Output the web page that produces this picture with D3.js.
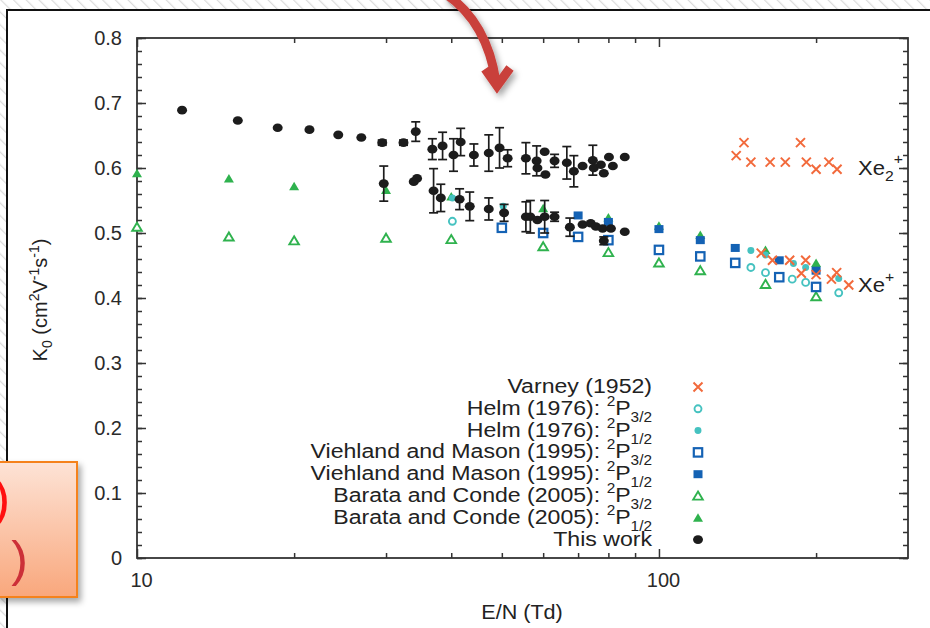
<!DOCTYPE html>
<html>
<head>
<meta charset="utf-8">
<style>
body { margin: 0; background: #fff; }
svg { display: block; font-family: "Liberation Sans", Arial, Helvetica, sans-serif; }
.axis path.domain { display: none; }
.axis line { stroke: #333; stroke-width: 1.5px; }
.axis text { font-size: 20px; fill: #2a2a2a; font-family: "Liberation Sans", Arial, sans-serif; }
</style>
</head>
<body>
<svg width="930" height="628"></svg>
<script src="https://cdn.jsdelivr.net/npm/d3@7"></script>
<script>

// ---- data (E/N in Td, K0 in cm2/Vs) ----
var workEN  = [12.2, 15.6, 18.6, 21.4, 24.3, 26.9, 29.5, 32.4, 34.2, 36.8, 38.5, 40.4, 41.7, 44.2, 47.2, 49.5, 51.3, 55.6, 58.3, 58.5, 60.4, 60.6, 63.1, 66.6, 68.7, 71.4, 74.7, 75.0, 77.4, 78.4, 80.2, 81.6, 86.0,
               29.7, 33.9, 34.4, 37.0, 38.2, 41.5, 43.4, 47.2, 50.5, 55.6, 56.7, 58.5, 60.4, 63.1, 67.5, 71.4, 74.0, 75.7, 78.0, 80.9, 78.4, 86.0];
var workK   = [0.689, 0.673, 0.662, 0.659, 0.651, 0.647, 0.639, 0.639, 0.656, 0.629, 0.634, 0.620, 0.640, 0.620, 0.623, 0.631, 0.615, 0.615, 0.611, 0.600, 0.625, 0.590, 0.611, 0.608, 0.595, 0.603, 0.612, 0.600, 0.605, 0.592, 0.617, 0.603, 0.617,
               0.576, 0.579, 0.584, 0.565, 0.554, 0.552, 0.541, 0.537, 0.531, 0.525, 0.525, 0.520, 0.525, 0.525, 0.509, 0.513, 0.515, 0.510, 0.507, 0.507, 0.488, 0.502];
var workErr = [0, 0, 0, 0, 0, 0, 0.004, 0.004, 0.015, 0.016, 0.021, 0.025, 0.021, 0.017, 0.028, 0.031, 0.013, 0.024, 0.023, 0, 0, 0, 0.010, 0.025, 0.024, 0, 0.023, 0, 0, 0, 0, 0, 0,
               0.027, 0, 0, 0.034, 0.021, 0.016, 0.022, 0.017, 0.013, 0.023, 0.025, 0, 0.025, 0.007, 0.014, 0, 0, 0, 0, 0, 0.006, 0];

var varneyEN = [140.6, 145.5, 150, 163.3, 174.6, 186.7, 191.6, 200, 211.6, 219.4, 157, 165, 178, 191, 187.4, 200, 214, 219, 231];
var varneyK  = [0.619, 0.639, 0.609, 0.609, 0.609, 0.639, 0.609, 0.598, 0.609, 0.598, 0.469, 0.458, 0.458, 0.458, 0.438, 0.436, 0.429, 0.439, 0.420];

var helm32EN = [40.2, 150, 160, 180, 191, 221];
var helm32K  = [0.518, 0.447, 0.439, 0.429, 0.424, 0.408];
var helm12EN = [40.2, 50.3, 150, 160, 181, 191, 221];
var helm12K  = [0.554, 0.541, 0.473, 0.466, 0.453, 0.447, 0.430];

var vm32EN = [50, 60, 70, 80, 100, 120, 140, 170, 200];
var vm32K  = [0.508, 0.500, 0.494, 0.489, 0.474, 0.464, 0.454, 0.432, 0.417];
var vm12EN = [70, 80, 100, 120, 140, 170, 200];
var vm12K  = [0.527, 0.517, 0.506, 0.489, 0.477, 0.458, 0.442];

var bc32EN = [10, 15, 20, 30, 40, 60, 80, 100, 120, 160, 200];
var bc32K  = [0.509, 0.494, 0.488, 0.492, 0.490, 0.479, 0.470, 0.454, 0.442, 0.421, 0.402];
var bc12EN = [10, 15, 20, 30, 40, 60, 80, 100, 120, 160, 200];
var bc12K  = [0.592, 0.584, 0.572, 0.566, 0.556, 0.538, 0.524, 0.511, 0.497, 0.474, 0.454];

var yMajor = [0, 0.1, 0.2, 0.3, 0.4, 0.5, 0.6, 0.7, 0.8];
var yMinor = d3.range(0, 0.801, 0.02);
var xMajor = [10, 100];
var xMinor = [20, 30, 40, 50, 60, 70, 80, 90, 200];

// legend: [name, superscript before P, subscript]
var legendNames = ["Varney (1952)", "Helm (1976): ", "Helm (1976): ", "Viehland and Mason (1995): ",
                   "Viehland and Mason (1995): ", "Barata and Conde (2005): ", "Barata and Conde (2005): ", "This work"];
var legendSubs  = [null, "3/2", "1/2", "3/2", "1/2", "3/2", "1/2", null];
var legendKeys  = ["varney", "helm32", "helm12", "vm32", "vm12", "bc32", "bc12", "work"];

var colors = {varney: "#f26a3c", helm: "#45c2c0", vm: "#1462b4", bc: "#2fb24e", work: "#1c1c1c"};

// ---- page decoration ----
var svg = d3.select("svg");
var defs = svg.append("defs");

var hatch = defs.append("pattern").attr("id", "hatch")
    .attr("patternUnits", "userSpaceOnUse").attr("width", 9).attr("height", 9)
    .attr("patternTransform", "rotate(-45)");
hatch.append("rect").attr("width", 9).attr("height", 9).attr("fill", "#fff");
hatch.append("line").attr("x1", 0).attr("y1", 0).attr("x2", 0).attr("y2", 9)
    .attr("stroke", "#dcdcdc").attr("stroke-width", 2.5);

var shadow = defs.append("filter").attr("id", "shadow")
    .attr("x", "-30%").attr("y", "-30%").attr("width", "160%").attr("height", "160%");
shadow.append("feDropShadow").attr("dx", 3).attr("dy", 4).attr("stdDeviation", 3)
    .attr("flood-color", "#000").attr("flood-opacity", 0.35);

var grad = defs.append("linearGradient").attr("id", "boxgrad")
    .attr("x1", 0).attr("y1", 0).attr("x2", 0).attr("y2", 1);
grad.append("stop").attr("offset", "0%").attr("stop-color", "#fde3d6");
grad.append("stop").attr("offset", "100%").attr("stop-color", "#f9a77c");

svg.append("rect").attr("width", 930).attr("height", 628).attr("fill", "url(#hatch)");
svg.append("rect").attr("x", 7).attr("y", 10).attr("width", 940).attr("height", 640)
    .attr("fill", "#fff").attr("stroke", "#111").attr("stroke-width", 2);

// ---- scales ----
var x = d3.scaleLog().domain([10, 300]).range([137, 908]);
var y = d3.scaleLinear().domain([0, 0.8]).range([558, 38]);

// axes (ticks point inward)
svg.append("g").attr("class", "axis").attr("transform", "translate(137,0)")
    .call(d3.axisLeft(y).tickValues(yMajor).tickSizeInner(-9).tickSizeOuter(0).tickPadding(15)
      .tickFormat(function(d) { return d === 0 ? "0" : d3.format(".1f")(d); }));
svg.append("g").attr("class", "axis").attr("transform", "translate(137,0)")
    .call(d3.axisLeft(y).tickValues(yMinor).tickSizeInner(-5).tickSizeOuter(0).tickFormat(""));
svg.append("g").attr("class", "axis").attr("transform", "translate(908,0)")
    .call(d3.axisRight(y).tickValues(yMajor).tickSizeInner(-9).tickSizeOuter(0).tickFormat(""));
svg.append("g").attr("class", "axis").attr("transform", "translate(908,0)")
    .call(d3.axisRight(y).tickValues(yMinor).tickSizeInner(-5).tickSizeOuter(0).tickFormat(""));

svg.append("g").attr("class", "axis").attr("transform", "translate(0,558)")
    .call(d3.axisBottom(x).tickValues(xMajor).tickSizeInner(-9).tickSizeOuter(0).tickPadding(15)
      .tickFormat(d3.format("d")))
  .selectAll("text").attr("dx", "0.2em");
svg.append("g").attr("class", "axis").attr("transform", "translate(0,558)")
    .call(d3.axisBottom(x).tickValues(xMinor).tickSizeInner(-5).tickSizeOuter(0).tickFormat(""));
svg.append("g").attr("class", "axis").attr("transform", "translate(0,38)")
    .call(d3.axisTop(x).tickValues(xMajor).tickSizeInner(-9).tickSizeOuter(0).tickFormat(""));
svg.append("g").attr("class", "axis").attr("transform", "translate(0,38)")
    .call(d3.axisTop(x).tickValues(xMinor).tickSizeInner(-5).tickSizeOuter(0).tickFormat(""));

svg.append("rect").attr("x", 137).attr("y", 38).attr("width", 771).attr("height", 520)
    .attr("fill", "none").attr("stroke", "#333").attr("stroke-width", 1.8);

// ---- symbols ----
function drawSymbol(g, key) {
  if (key === "varney") {
    g.append("path").attr("d", "M-4.5,-4.5L4.5,4.5M-4.5,4.5L4.5,-4.5")
      .attr("stroke", colors.varney).attr("stroke-width", 2).attr("fill", "none");
  } else if (key === "helm32") {
    g.append("path").attr("d", d3.symbol().type(d3.symbolCircle).size(38)())
      .attr("fill", "#fff").attr("stroke", colors.helm).attr("stroke-width", 1.9);
  } else if (key === "helm12") {
    g.append("path").attr("d", d3.symbol().type(d3.symbolCircle).size(38)())
      .attr("fill", colors.helm);
  } else if (key === "vm32") {
    g.append("rect").attr("x", -4.2).attr("y", -4.2).attr("width", 8.4).attr("height", 8.4)
      .attr("fill", "#fff").attr("stroke", colors.vm).attr("stroke-width", 2.2);
  } else if (key === "vm12") {
    g.append("rect").attr("x", -4.5).attr("y", -4).attr("width", 9).attr("height", 8)
      .attr("fill", colors.vm);
  } else if (key === "bc32") {
    g.append("path").attr("d", "M0,-4.5L4.8,3.6L-4.8,3.6Z")
      .attr("fill", "#fff").attr("stroke", colors.bc).attr("stroke-width", 1.9);
  } else if (key === "bc12") {
    g.append("path").attr("d", "M0,-4.5L5,4L-5,4Z").attr("fill", colors.bc);
  } else if (key === "work") {
    g.append("ellipse").attr("rx", 5).attr("ry", 4.3).attr("fill", colors.work);
  }
}

function plotSeries(key, en, k) {
  svg.append("g").selectAll("g").data(d3.zip(en, k)).enter().append("g")
      .attr("transform", function(d) { return "translate(" + x(d[0]) + "," + y(d[1]) + ")"; })
      .each(function() { drawSymbol(d3.select(this), key); });
}

plotSeries("bc32", bc32EN, bc32K);
plotSeries("bc12", bc12EN, bc12K);
plotSeries("helm32", helm32EN, helm32K);
plotSeries("helm12", helm12EN, helm12K);
plotSeries("vm32", vm32EN, vm32K);
plotSeries("vm12", vm12EN, vm12K);
plotSeries("varney", varneyEN, varneyK);

// this work, with error bars
var work = d3.zip(workEN, workK, workErr);
var bars = svg.append("g").attr("stroke", colors.work).attr("stroke-width", 1.7)
  .selectAll("g").data(work.filter(function(d) { return d[2] > 0; })).enter().append("g");
bars.append("line")
    .attr("x1", function(d) { return x(d[0]); }).attr("x2", function(d) { return x(d[0]); })
    .attr("y1", function(d) { return y(d[1] - d[2]); }).attr("y2", function(d) { return y(d[1] + d[2]); });
bars.append("line")
    .attr("x1", function(d) { return x(d[0]) - 4.5; }).attr("x2", function(d) { return x(d[0]) + 4.5; })
    .attr("y1", function(d) { return y(d[1] - d[2]); }).attr("y2", function(d) { return y(d[1] - d[2]); });
bars.append("line")
    .attr("x1", function(d) { return x(d[0]) - 4.5; }).attr("x2", function(d) { return x(d[0]) + 4.5; })
    .attr("y1", function(d) { return y(d[1] + d[2]); }).attr("y2", function(d) { return y(d[1] + d[2]); });
plotSeries("work", workEN, workK);

// ---- legend ----
legendNames.forEach(function(name, i) {
  var ty = 393 + i * 21.8;
  var t = svg.append("text").attr("transform", "translate(652," + ty + ") scale(1.1,1)")
      .attr("text-anchor", "end").attr("font-size", 21).attr("fill", "#222");
  t.append("tspan").text(name);
  if (legendSubs[i]) {
    t.append("tspan").attr("font-size", 14).attr("dy", -9).text("2");
    t.append("tspan").attr("font-size", 21).attr("dy", 9).text("P");
    t.append("tspan").attr("font-size", 14).attr("dy", 7).text(legendSubs[i]);
  }
  var g = svg.append("g").attr("transform", "translate(698," + (ty - 6) + ")");
  drawSymbol(g, legendKeys[i]);
});

// ---- axis titles and ion labels ----
var yl = svg.append("text").attr("transform", "translate(47,300) rotate(-90)")
    .attr("text-anchor", "middle").attr("font-size", 20).attr("fill", "#222");
yl.append("tspan").text("K");
yl.append("tspan").attr("font-size", 14).attr("dy", 5).text("0");
yl.append("tspan").attr("dy", -5).text(" (cm");
yl.append("tspan").attr("font-size", 14).attr("dy", -8).text("2");
yl.append("tspan").attr("dy", 8).text("V");
yl.append("tspan").attr("font-size", 14).attr("dy", -8).text("-1");
yl.append("tspan").attr("dy", 8).text("s");
yl.append("tspan").attr("font-size", 14).attr("dy", -8).text("-1");
yl.append("tspan").attr("dy", 8).text(")");

svg.append("text").attr("transform", "translate(522,619) scale(1.08,1)")
    .attr("text-anchor", "middle").attr("font-size", 20).attr("fill", "#222").text("E/N (Td)");

var xe2 = svg.append("text").attr("transform", "translate(858,175) scale(1.05,1)")
    .attr("font-size", 21).attr("fill", "#222");
xe2.append("tspan").text("Xe");
xe2.append("tspan").attr("font-size", 15).attr("dy", 6).text("2");
xe2.append("tspan").attr("font-size", 15).attr("dy", -17).text("+");

var xe1 = svg.append("text").attr("transform", "translate(858,292) scale(1.05,1)")
    .attr("font-size", 21).attr("fill", "#222");
xe1.append("tspan").text("Xe");
xe1.append("tspan").attr("font-size", 15).attr("dy", -10).text("+");

// ---- slide overlays: arrow and clipped box ----
var arrow = svg.append("g").attr("filter", "url(#shadow)")
    .attr("stroke", "#c9403b").attr("stroke-width", 9).attr("fill", "none");
arrow.append("path").attr("d", "M446,-6 C472,12 490,42 496,82");
arrow.append("path").attr("d", "M485,69 L497,86 L510,68").attr("stroke-linejoin", "miter");

svg.append("rect").attr("x", -4).attr("y", 462).attr("width", 81).attr("height", 135)
    .attr("fill", "url(#boxgrad)").attr("stroke", "#f5821f").attr("stroke-width", 2)
    .attr("filter", "url(#shadow)");
svg.append("text").attr("x", 10).attr("y", 516).attr("text-anchor", "end")
    .attr("font-size", 52).attr("fill", "#ff1010").text(")");
svg.append("text").attr("x", 28).attr("y", 576).attr("text-anchor", "end")
    .attr("font-size", 50).attr("fill", "#cc3038").text(")");

</script>
</body>
</html>
